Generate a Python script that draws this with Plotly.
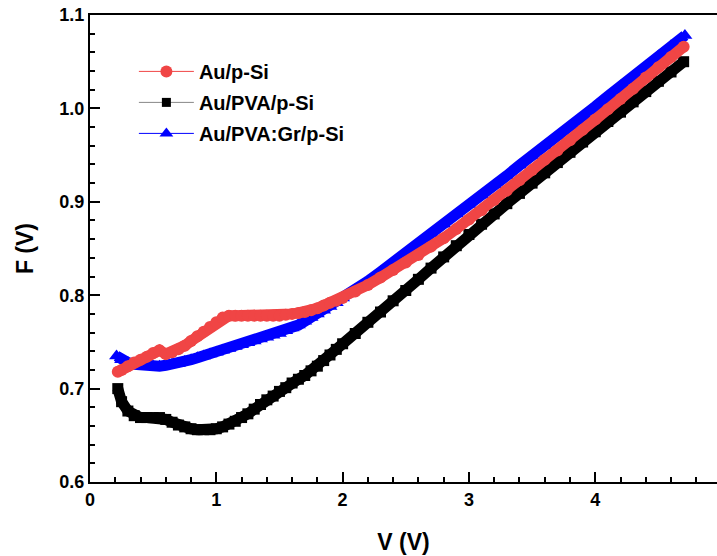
import plotly.graph_objects as go

# ---- data ----
v_red = [0.22, 0.25, 0.30, 0.35, 0.40, 0.45, 0.50, 0.55, 0.60, 0.65, 0.70, 0.75, 0.80, 0.85, 0.90, 0.95,
         1.00, 1.05, 1.10, 1.15, 1.20, 1.25, 1.30, 1.35, 1.40, 1.45, 1.50, 1.55, 1.60, 1.65, 1.70, 1.75,
         1.80, 1.85, 1.90, 1.95, 2.00, 2.1, 2.2, 2.3, 2.4, 2.5, 2.6, 2.7, 2.8, 2.9, 3.0, 3.1, 3.2, 3.3,
         3.4, 3.5, 3.6, 3.7, 3.8, 3.9, 4.0, 4.1, 4.2, 4.3, 4.4, 4.5, 4.6, 4.7]
f_red = [0.718, 0.720, 0.724, 0.728, 0.731, 0.734, 0.738, 0.741, 0.737, 0.739, 0.742, 0.746, 0.751, 0.756,
         0.761, 0.766, 0.771, 0.776, 0.778, 0.778, 0.778, 0.778, 0.778, 0.778, 0.778, 0.778, 0.778, 0.779,
         0.780, 0.781, 0.782, 0.784, 0.786, 0.789, 0.792, 0.794, 0.797, 0.804, 0.811, 0.819, 0.827, 0.835,
         0.843, 0.852, 0.861, 0.871, 0.881, 0.891, 0.902, 0.912, 0.923, 0.934, 0.945, 0.955, 0.966, 0.977,
         0.988, 0.999, 1.010, 1.021, 1.033, 1.044, 1.055, 1.066]

v_black = [0.22, 0.25, 0.30, 0.35, 0.40, 0.45, 0.50, 0.55, 0.60, 0.65, 0.70, 0.75, 0.80, 0.85, 0.90, 0.95,
           1.00, 1.05, 1.10, 1.15, 1.20, 1.25, 1.30, 1.35, 1.40, 1.45, 1.50, 1.55, 1.60, 1.65, 1.70, 1.75,
           1.80, 1.85, 1.90, 1.95, 2.00, 2.1, 2.2, 2.3, 2.4, 2.5, 2.6, 2.7, 2.8, 2.9, 3.0, 3.1, 3.2, 3.3,
           3.4, 3.5, 3.6, 3.7, 3.8, 3.9, 4.0, 4.1, 4.2, 4.3, 4.4, 4.5, 4.6, 4.7]
f_black = [0.700, 0.686, 0.676, 0.671, 0.669, 0.669, 0.669, 0.669, 0.667, 0.664, 0.661, 0.659, 0.657, 0.656,
           0.656, 0.656, 0.657, 0.659, 0.662, 0.665, 0.669, 0.673, 0.678, 0.683, 0.688, 0.692, 0.697, 0.701,
           0.706, 0.710, 0.714, 0.719, 0.724, 0.730, 0.736, 0.742, 0.748, 0.759, 0.771, 0.782, 0.794, 0.805,
           0.817, 0.829, 0.841, 0.853, 0.865, 0.876, 0.887, 0.898, 0.909, 0.920, 0.931, 0.942, 0.953, 0.964,
           0.975, 0.986, 0.996, 1.007, 1.018, 1.029, 1.039, 1.050]

v_blue = [0.21, 0.25, 0.30, 0.35, 0.40, 0.45, 0.50, 0.55, 0.60, 0.65, 0.70, 0.75, 0.80, 0.85, 0.90, 0.95,
          1.00, 1.05, 1.10, 1.15, 1.20, 1.25, 1.30, 1.35, 1.40, 1.45, 1.50, 1.55, 1.60, 1.65, 1.70, 1.75,
          1.80, 1.85, 1.90, 1.95, 2.00, 2.1, 2.2, 2.3, 2.4, 2.5, 2.6, 2.7, 2.8, 2.9, 3.0, 3.1, 3.2, 3.3,
          3.4, 3.5, 3.6, 3.7, 3.8, 3.9, 4.0, 4.1, 4.2, 4.3, 4.4, 4.5, 4.6, 4.71]
f_blue = [0.735, 0.731, 0.728, 0.726, 0.725, 0.724, 0.724, 0.724, 0.725, 0.726, 0.727, 0.729, 0.731, 0.733,
          0.735, 0.737, 0.739, 0.741, 0.743, 0.745, 0.747, 0.749, 0.751, 0.753, 0.755, 0.757, 0.759, 0.762,
          0.765, 0.768, 0.772, 0.776, 0.780, 0.784, 0.788, 0.792, 0.797, 0.806, 0.815, 0.825, 0.835, 0.845,
          0.855, 0.866, 0.876, 0.887, 0.897, 0.907, 0.918, 0.928, 0.939, 0.949, 0.960, 0.970, 0.981, 0.991,
          1.002, 1.013, 1.024, 1.034, 1.045, 1.056, 1.067, 1.078]

names = ["Au/p-Si", "Au/PVA/p-Si", "Au/PVA:Gr/p-Si"]
x_ticks = [0, 1, 2, 3, 4]
y_ticks = [0.6, 0.7, 0.8, 0.9, 1.0, 1.1]

RED = "#F04545"
BLACK = "#000000"
BLUE = "#0000FF"
FONT = "Liberation Sans, Arial, sans-serif"

fig = go.Figure()

# data bands (drawn black, blue, red so red is on top)
fig.add_trace(go.Scatter(x=v_black, y=f_black, mode="lines+markers", showlegend=False,
                         line=dict(color=BLACK, width=11),
                         marker=dict(symbol="square", size=11, color=BLACK)))
fig.add_trace(go.Scatter(x=v_blue, y=f_blue, mode="lines+markers", showlegend=False,
                         line=dict(color=BLUE, width=11),
                         marker=dict(symbol="triangle-up", size=13, color=BLUE)))
fig.add_trace(go.Scatter(x=v_red, y=f_red, mode="lines+markers", showlegend=False,
                         line=dict(color=RED, width=11),
                         marker=dict(symbol="circle", size=12, color=RED)))

# legend entries
fig.add_trace(go.Scatter(x=[None], y=[None], mode="lines+markers", name=names[0], legendgroup="a",
                         line=dict(color=RED, width=1), marker=dict(symbol="circle", size=12, color=RED)))
fig.add_trace(go.Scatter(x=[None], y=[None], mode="lines+markers", name=names[1], legendgroup="b",
                         line=dict(color="#888888", width=1), marker=dict(symbol="square", size=9, color=BLACK)))
fig.add_trace(go.Scatter(x=[None], y=[None], mode="lines+markers", name=names[2], legendgroup="c",
                         line=dict(color=BLUE, width=1), marker=dict(symbol="triangle-up", size=12, color=BLUE)))

axis_common = dict(showgrid=False, zeroline=False, showline=True, linecolor="black", linewidth=2,
                   ticks="inside", tickcolor="black", tickwidth=2, ticklen=10, automargin=False,
                   tickfont=dict(family=FONT, size=18, color="black", weight="bold"))

fig.update_xaxes(range=[0, 4.964], tickvals=x_ticks, mirror=True,
                 minor=dict(ticks="inside", ticklen=5, tickwidth=2, tickcolor="black", dtick=0.2),
                 title=dict(text="V (V)", font=dict(family=FONT, size=23, color="black", weight="bold"),
                            standoff=25),
                 **axis_common)
fig.update_yaxes(range=[0.6, 1.1], tickvals=y_ticks, tickformat=".1f",
                 minor=dict(ticks="inside", ticklen=5, tickwidth=2, tickcolor="black", dtick=0.02),
                 title=dict(text="F (V)", font=dict(family=FONT, size=23, color="black", weight="bold"),
                            standoff=19),
                 **axis_common)

fig.update_layout(
    width=717, height=556,
    margin=dict(l=90, r=0, t=15, b=74),
    paper_bgcolor="white", plot_bgcolor="white",
    legend=dict(x=0.070, y=0.921, xanchor="left", yanchor="top", bgcolor="rgba(0,0,0,0)",
                itemwidth=55, tracegroupgap=2,
                font=dict(family=FONT, size=20, color="black", weight="bold")),
)

fig.write_html("out.html", config={"displayModeBar": False},
               post_script="document.body.style.margin='0';")
